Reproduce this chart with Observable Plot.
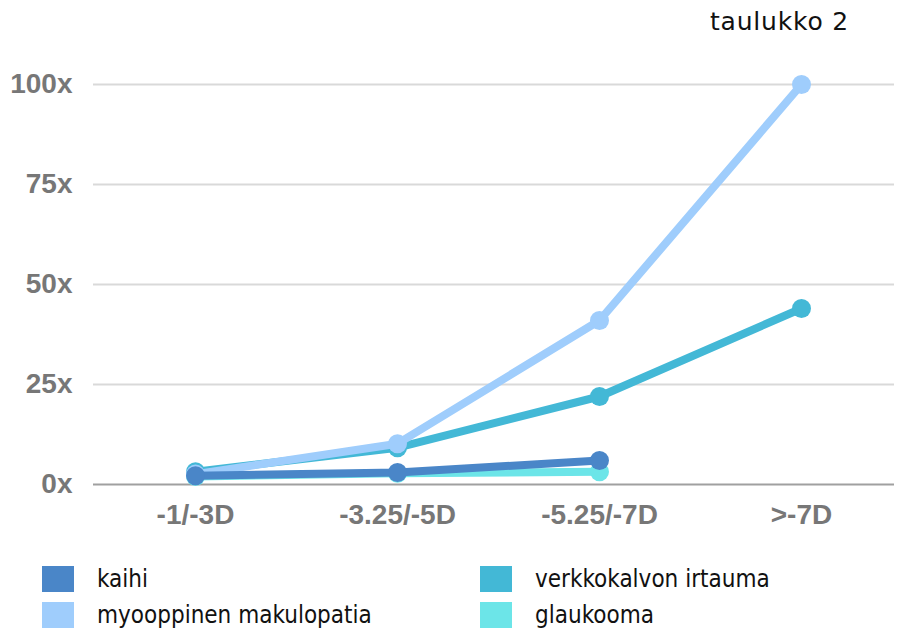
<!DOCTYPE html>
<html>
<head>
<meta charset="utf-8">
<script src="https://cdn.jsdelivr.net/npm/d3@7"></script>
<script src="https://cdn.jsdelivr.net/npm/@observablehq/plot@0.6"></script>
<style>
  html, body { margin: 0; padding: 0; background: #fff; }
  #wrap { position: relative; width: 897px; height: 629px; overflow: hidden; }
  #title { position: absolute; left: 710px; top: 7px; font-family: "DejaVu Sans", sans-serif; font-size: 25px; color: #111; letter-spacing: 0.8px; }
  #chart { position: absolute; left: 0; top: 0; }
  .leg { position: absolute; display: flex; align-items: center; font-family: "Liberation Sans Narrow", "DejaVu Sans Condensed", "DejaVu Sans", sans-serif; font-stretch: condensed; font-size: 24px; line-height: 24px; color: #111; }
  .sw { width: 32px; height: 26px; margin-right: 23px; }
</style>
</head>
<body>
<div id="wrap">
  <div id="chart"></div>
  <div id="title">taulukko 2</div>
  <div id="legend"></div>
</div>
<script>
const categories = ["-1/-3D", "-3.25/-5D", "-5.25/-7D", ">-7D"];
const seriesNames = ["kaihi", "verkkokalvon irtauma", "myooppinen makulopatia", "glaukooma"];
const kaihi = [2.2, 3, 6, null];
const verkkokalvon = [3.2, 9.2, 22, 44];
const myooppinen = [2.6, 10.2, 41, 100];
const glaukooma = [2, 2.8, 3.2, null];
const yTicks = [0, 25, 50, 75, 100];
const colors = {
  "kaihi": "#4a86c8",
  "verkkokalvon irtauma": "#43b8d6",
  "myooppinen makulopatia": "#9fcdfc",
  "glaukooma": "#6ce5e8"
};

const seriesValues = {
  "kaihi": kaihi,
  "verkkokalvon irtauma": verkkokalvon,
  "myooppinen makulopatia": myooppinen,
  "glaukooma": glaukooma
};
function rows(name) {
  return categories.map((c, i) => ({cat: c, value: seriesValues[name][i], series: name}))
    .filter(d => d.value != null);
}
const drawOrder = ["glaukooma", "verkkokalvon irtauma", "myooppinen makulopatia", "kaihi"];

const marks = [
  Plot.ruleY(yTicks.filter(d => d > 0), {y: d => d, stroke: "#d9d9d9", strokeWidth: 2}),
  Plot.ruleY([0], {y: d => d, stroke: "#a0a0a0", strokeWidth: 2}),
  Plot.axisY({ticks: yTicks, tickFormat: d => d + "x", tickSize: 0, tickPadding: 21}),
  Plot.axisX({tickSize: 0, tickPadding: 20})
];
for (const name of drawOrder) {
  const r = rows(name);
  marks.push(Plot.line(r, {x: "cat", y: "value", stroke: colors[name], strokeWidth: 8, strokeLinecap: "round", strokeLinejoin: "round"}));
  marks.push(Plot.dot(r, {x: "cat", y: "value", r: 9.5, fill: colors[name], stroke: "none"}));
}

const chart = Plot.plot({
  width: 897,
  height: 540,
  marginLeft: 93,
  marginRight: 3,
  marginTop: 84,
  marginBottom: 56,
  style: {fontFamily: "'Liberation Sans', Arial, sans-serif", fontSize: "28px", fontWeight: "bold", color: "#777", background: "transparent"},
  x: {type: "point", domain: categories, range: [194, 801], padding: 0, label: null},
  y: {domain: [0, 100], label: null},
  marks
});
document.getElementById("chart").appendChild(chart);

const legendPos = [
  {name: "kaihi", left: 42, top: 566},
  {name: "verkkokalvon irtauma", left: 480, top: 566},
  {name: "myooppinen makulopatia", left: 42, top: 602},
  {name: "glaukooma", left: 480, top: 602}
];
const leg = document.getElementById("legend");
for (const p of legendPos) {
  const d = document.createElement("div");
  d.className = "leg";
  d.style.left = p.left + "px";
  d.style.top = p.top + "px";
  const s = document.createElement("div");
  s.className = "sw";
  s.style.background = colors[p.name];
  d.appendChild(s);
  const t = document.createElement("span");
  t.textContent = p.name;
  d.appendChild(t);
  leg.appendChild(d);
}
</script>
</body>
</html>
